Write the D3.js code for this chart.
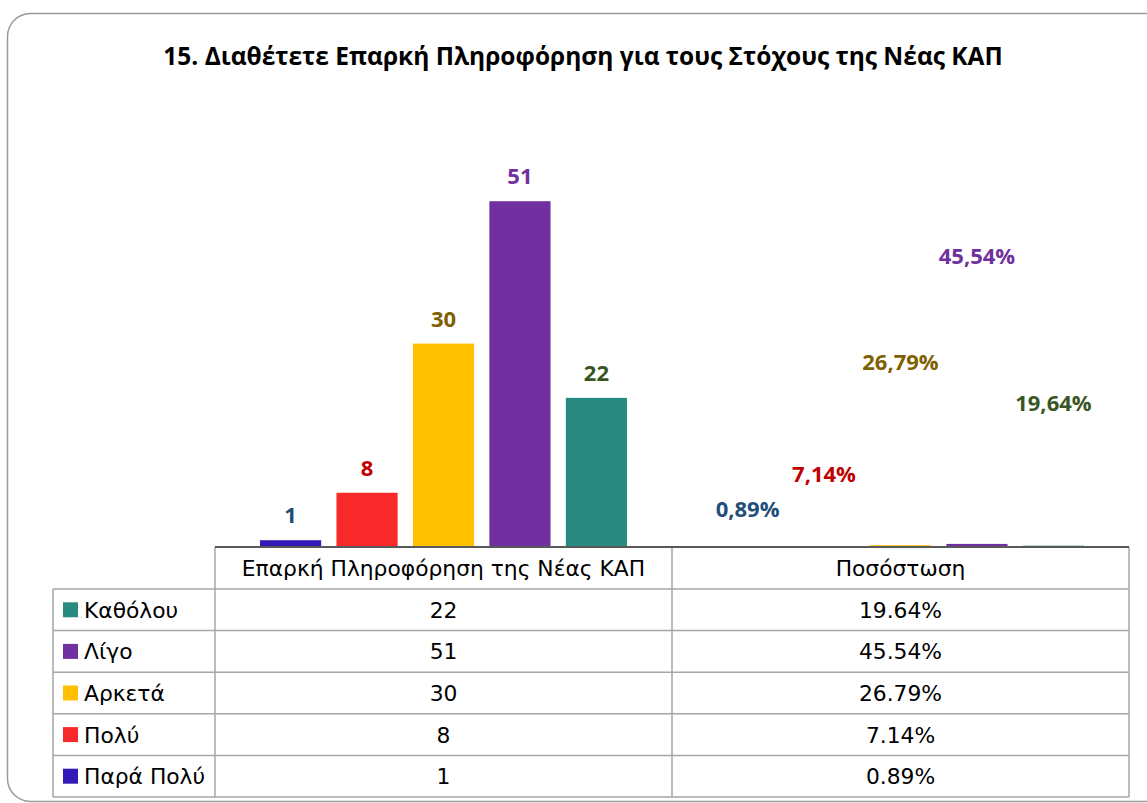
<!DOCTYPE html>
<html><head><meta charset="utf-8">
<script src="https://cdn.jsdelivr.net/npm/d3@7"></script>
<style>
html,body{margin:0;padding:0;background:#fff;}
svg{display:block;}
</style></head>
<body>
<svg id="chart" width="1147" height="803"></svg>
<script>
const title = "15. Διαθέτετε Επαρκή Πληροφόρηση για τους Στόχους της Νέας ΚΑΠ";
const categories = ["Επαρκή Πληροφόρηση της Νέας ΚΑΠ", "Ποσόστωση"];
const seriesNames = ["Παρά Πολύ", "Πολύ", "Αρκετά", "Λίγο", "Καθόλου"];
const counts = [1, 8, 30, 51, 22];
const percents = [0.0089, 0.0714, 0.2679, 0.4554, 0.1964];
const barColors = ["#3319B5", "#F8292B", "#FFC000", "#7030A0", "#298B7F"];
const labelColors = ["#1F4E79", "#C00000", "#7F6000", "#7030A0", "#375623"];
const yTicks = [0, 60];

const svg = d3.select("#chart");

// outer frame
svg.append("rect").attr("x", 7.5).attr("y", 13.5).attr("width", 1160).attr("height", 788)
  .attr("rx", 23).attr("ry", 23).attr("fill", "#fff").attr("stroke", "#9a9a9a").attr("stroke-width", 1.5);

// title
const t = svg.append("text").attr("x", 583).attr("y", 65).attr("text-anchor", "middle")
  .attr("font-family", "'Open Sans', sans-serif").attr("font-weight", "bold").attr("font-size", 22)
  .attr("fill", "#000").text(title);
const tw = t.node().getComputedTextLength();
t.attr("font-size", 22 * 840 / tw);

// scales
const tableLeft = 53, plotLeft = 215, plotRight = 1129, baseY = 547;
const x0 = d3.scaleBand().domain(categories).range([plotLeft, plotRight]);
const x1 = d3.scaleBand().domain(seriesNames).range([45, x0.bandwidth() - 45]).paddingInner(0.2);
const y = d3.scaleLinear().domain(d3.extent(yTicks)).range([baseY, baseY - 60 * 6.78]);
const pctLabelY = d3.scaleLinear().domain([0, 0.5]).range([baseY - 25, baseY - 25 - 283]);

const fmtCountLabel = d3.format("d");
const locComma = d3.formatLocale({decimal: ",", thousands: ".", grouping: [3], currency: ["", "€"]});
const fmtPctLabel = locComma.format(".2%");
const fmtPctTable = d3.format(".2%");

const valuesByCat = [counts, percents];

// bars
categories.forEach((cat, ci) => {
  const g = svg.append("g").attr("transform", `translate(${x0(cat)},0)`);
  g.selectAll("rect").data(seriesNames).join("rect")
    .attr("x", d => x1(d))
    .attr("width", x1.bandwidth())
    .attr("y", (d, i) => y(valuesByCat[ci][i]))
    .attr("height", (d, i) => baseY - y(valuesByCat[ci][i]))
    .attr("fill", (d, i) => barColors[i]);
});

// count labels
const labelFont = "'Open Sans', sans-serif";
svg.append("g").selectAll("text").data(seriesNames).join("text")
  .attr("x", d => x0(categories[0]) + x1(d) + x1.bandwidth() / 2)
  .attr("y", (d, i) => y(counts[i]) - 17)
  .attr("text-anchor", "middle").attr("font-family", labelFont).attr("font-weight", "bold")
  .attr("font-size", 22).attr("fill", (d, i) => labelColors[i])
  .text((d, i) => fmtCountLabel(counts[i]));

// percentage labels (moved above the tiny bars)
svg.append("g").selectAll("text").data(seriesNames).join("text")
  .attr("x", d => x0(categories[1]) + x1(d) + x1.bandwidth() / 2)
  .attr("y", (d, i) => pctLabelY(percents[i]))
  .attr("text-anchor", "middle").attr("font-family", labelFont).attr("font-weight", "bold")
  .attr("font-size", 22).attr("fill", (d, i) => labelColors[i])
  .text((d, i) => fmtPctLabel(percents[i]));

// data table
const headH = 42, rowH = 41.6;
const tableRows = seriesNames.map((d, i) => i).reverse();
const tbl = svg.append("g");
const gridColor = "#a6a6a6";
const tableBottom = baseY + headH + rowH * tableRows.length;
tbl.append("line").attr("x1", tableLeft).attr("x2", plotRight).attr("y1", baseY + headH).attr("y2", baseY + headH)
  .attr("stroke", gridColor).attr("stroke-width", 1.5);
tableRows.forEach((si, r) => {
  const yy = baseY + headH + rowH * (r + 1);
  tbl.append("line").attr("x1", tableLeft).attr("x2", plotRight).attr("y1", yy).attr("y2", yy)
    .attr("stroke", gridColor).attr("stroke-width", 1.5);
});
tbl.append("line").attr("x1", tableLeft).attr("x2", tableLeft).attr("y1", baseY + headH).attr("y2", tableBottom)
  .attr("stroke", gridColor).attr("stroke-width", 1.5);
[plotLeft, x0(categories[1]), plotRight].forEach(xx => {
  tbl.append("line").attr("x1", xx).attr("x2", xx).attr("y1", baseY).attr("y2", tableBottom)
    .attr("stroke", gridColor).attr("stroke-width", 1.5);
});
svg.append("line").attr("x1", plotLeft).attr("x2", plotRight).attr("y1", baseY).attr("y2", baseY)
  .attr("stroke", "#595959").attr("stroke-width", 2);

const tableFont = "'DejaVu Sans', sans-serif";
const tfs = 21.8;
tbl.selectAll("text.head").data(categories).join("text").attr("class", "head")
  .attr("x", d => x0(d) + x0.bandwidth() / 2).attr("y", baseY + headH / 2 + 8)
  .attr("text-anchor", "middle").attr("font-family", tableFont).attr("font-size", tfs).attr("fill", "#000")
  .text(d => d);
tableRows.forEach((si, r) => {
  const cy = baseY + headH + rowH * r + rowH / 2;
  tbl.append("rect").attr("x", 63).attr("y", cy - 7.5).attr("width", 15).attr("height", 15).attr("fill", barColors[si]);
  tbl.append("text").attr("x", 84).attr("y", cy + 8).attr("font-family", tableFont).attr("font-size", tfs)
    .attr("fill", "#000").text(seriesNames[si]);
  tbl.append("text").attr("x", x0(categories[0]) + x0.bandwidth() / 2).attr("y", cy + 8).attr("text-anchor", "middle")
    .attr("font-family", tableFont).attr("font-size", tfs).attr("fill", "#000").text(counts[si]);
  tbl.append("text").attr("x", x0(categories[1]) + x0.bandwidth() / 2).attr("y", cy + 8).attr("text-anchor", "middle")
    .attr("font-family", tableFont).attr("font-size", tfs).attr("fill", "#000").text(fmtPctTable(percents[si]));
});
</script>
</body></html>
